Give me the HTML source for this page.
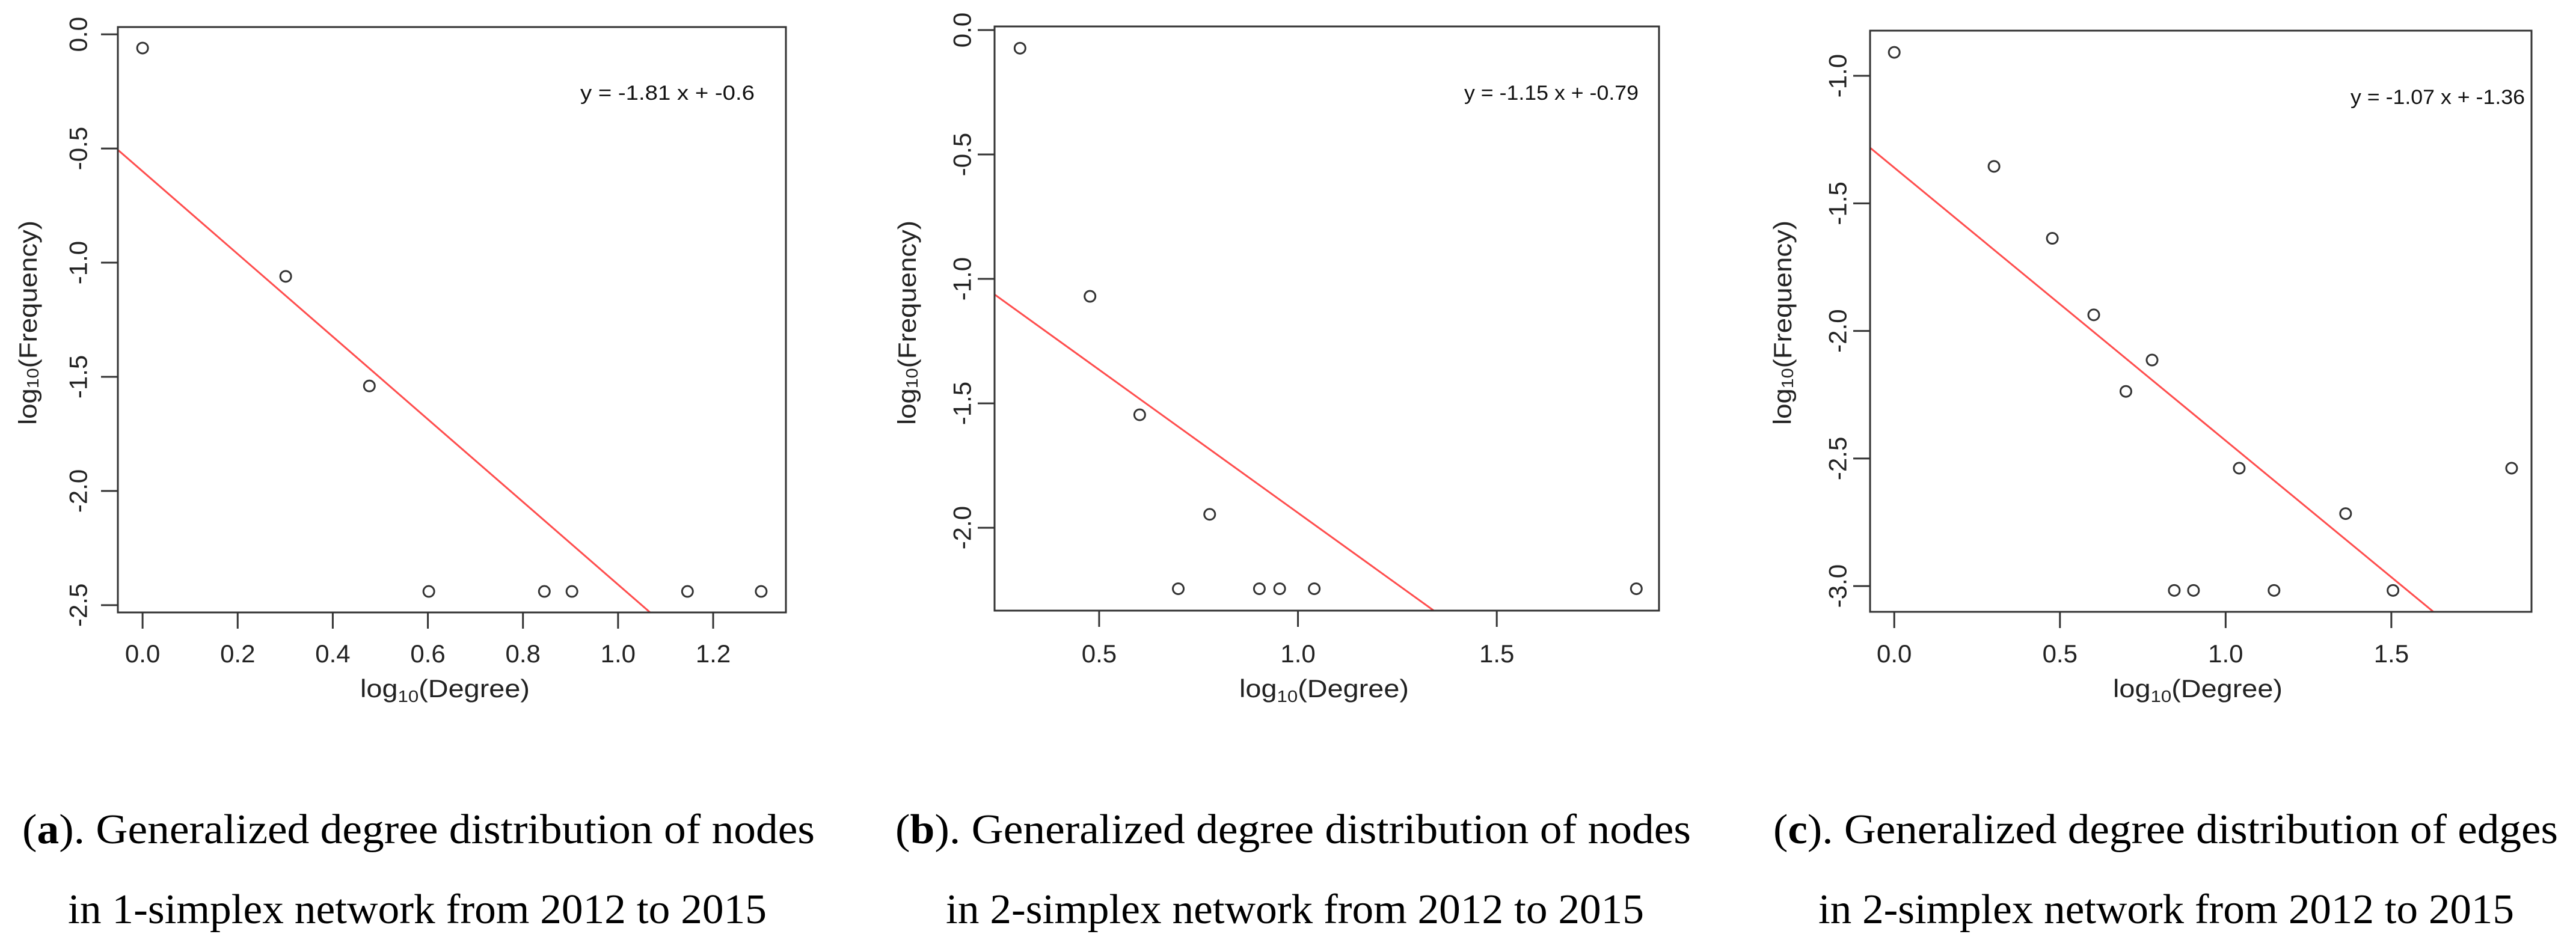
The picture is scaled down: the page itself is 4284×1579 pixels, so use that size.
<!DOCTYPE html>
<html><head><meta charset="utf-8"><style>
html,body{margin:0;padding:0;background:#fff;}
svg{display:block;}
.tick{font-family:"Liberation Sans",sans-serif;font-size:42px;fill:#222;}
.ttl{font-family:"Liberation Sans",sans-serif;font-size:42px;fill:#222;}
.eq{font-family:"Liberation Sans",sans-serif;font-size:34px;fill:#111;}
.cap{font-family:"Liberation Serif",serif;font-size:70px;fill:#000;}
</style></head><body>
<svg id="fig" width="4284" height="1579" viewBox="0 0 4284 1579" xmlns="http://www.w3.org/2000/svg">
<text class="cap" x="37" y="1403" textLength="1318" lengthAdjust="spacingAndGlyphs">(<tspan font-weight="bold">a</tspan>). Generalized degree distribution of nodes</text>
<text class="cap" x="113" y="1536" textLength="1162" lengthAdjust="spacingAndGlyphs">in 1-simplex network from 2012 to 2015</text>
<text class="cap" x="1489" y="1403" textLength="1323" lengthAdjust="spacingAndGlyphs">(<tspan font-weight="bold">b</tspan>). Generalized degree distribution of nodes</text>
<text class="cap" x="1573" y="1536" textLength="1161" lengthAdjust="spacingAndGlyphs">in 2-simplex network from 2012 to 2015</text>
<text class="cap" x="2949" y="1403" textLength="1305" lengthAdjust="spacingAndGlyphs">(<tspan font-weight="bold">c</tspan>). Generalized degree distribution of edges</text>
<text class="cap" x="3024" y="1536" textLength="1157" lengthAdjust="spacingAndGlyphs">in 2-simplex network from 2012 to 2015</text>
</svg>
<script>
// Panel (a) data
const xA = [0, 0.301, 0.477, 0.602, 0.845, 0.903, 1.146, 1.301];
const yA = [-0.06, -1.06, -1.54, -2.44, -2.44, -2.44, -2.44, -2.44];
const xTicksA = [0, 0.2, 0.4, 0.6, 0.8, 1.0, 1.2];
const xTickLabelsA = ["0.0","0.2","0.4","0.6","0.8","1.0","1.2"];
const yTicksA = [0, -0.5, -1.0, -1.5, -2.0, -2.5];
const yTickLabelsA = ["0.0","-0.5","-1.0","-1.5","-2.0","-2.5"];
const fitA = [-1.81, -0.6];
// Panel (b) data
const xB = [0.301, 0.477, 0.602, 0.699, 0.778, 0.903, 0.954, 1.041, 1.851];
const yB = [-0.073, -1.07, -1.546, -2.245, -1.946, -2.245, -2.245, -2.245, -2.245];
const xTicksB = [0.5, 1.0, 1.5];
const xTickLabelsB = ["0.5","1.0","1.5"];
const yTicksB = [0, -0.5, -1.0, -1.5, -2.0];
const yTickLabelsB = ["0.0","-0.5","-1.0","-1.5","-2.0"];
const fitB = [-1.15, -0.79];
// Panel (c) data
const xC = [0, 0.301, 0.477, 0.602, 0.699, 0.778, 0.845, 0.903, 1.041, 1.146, 1.362, 1.505, 1.863];
const yC = [-0.908, -1.355, -1.637, -1.937, -2.237, -2.114, -3.017, -3.017, -2.538, -3.017, -2.716, -3.017, -2.538];
const xTicksC = [0, 0.5, 1.0, 1.5];
const xTickLabelsC = ["0.0","0.5","1.0","1.5"];
const yTicksC = [-1.0, -1.5, -2.0, -2.5, -3.0];
const yTickLabelsC = ["-1.0","-1.5","-2.0","-2.5","-3.0"];
const fitC = [-1.07, -1.36];

const NS = "http://www.w3.org/2000/svg";
const svg = document.getElementById("fig");
function mk(tag, attrs, parent){
  const e = document.createElementNS(NS, tag);
  for (const k in attrs) e.setAttribute(k, attrs[k]);
  (parent||svg).appendChild(e);
  return e;
}
function panel(id, cfg, xs, ys, xt, xtl, yt, ytl, fit){
  const g = mk("g", {});
  
  
  const sx = v => cfg.L + (v - cfg.x0) / (cfg.x1 - cfg.x0) * (cfg.R - cfg.L);
  const sy = v => cfg.T + (cfg.y1 - v) / (cfg.y1 - cfg.y0) * (cfg.B - cfg.T);
  // fit line clipped to box
  const clip = mk("clipPath", {id: "clip" + id}, g);
  mk("rect", {x: cfg.L, y: cfg.T, width: cfg.R - cfg.L, height: cfg.B - cfg.T}, clip);
  const fl = mk("line", {x1: sx(cfg.x0), y1: sy(fit[0]*cfg.x0 + fit[1]), x2: sx(cfg.x1), y2: sy(fit[0]*cfg.x1 + fit[1]), stroke: "#ff4d4d", "stroke-width": 3, "clip-path": "url(#clip" + id + ")"}, g);
  
  
  // box
  const box = mk("rect", {x: cfg.L, y: cfg.T, width: cfg.R - cfg.L, height: cfg.B - cfg.T, fill: "none", stroke: "#333", "stroke-width": 3}, g);
  
  
  // x axis
  const xa = mk("line", {x1: sx(xt[0]), x2: sx(xt[xt.length-1]), y1: cfg.B, y2: cfg.B, stroke: "#333", "stroke-width": 3}, g);
  
  
  xt.forEach((v, i) => {
    mk("line", {x1: sx(v), x2: sx(v), y1: cfg.B, y2: cfg.B + 27, stroke: "#333", "stroke-width": 3}, g);
    const t = mk("text", {x: sx(v), y: 1102, "text-anchor": "middle", class: "tick"}, g);
    t.textContent = xtl[i];
    
    
  });
  const ya = mk("line", {x1: cfg.L, x2: cfg.L, y1: sy(yt[0]), y2: sy(yt[yt.length-1]), stroke: "#333", "stroke-width": 3}, g);
  
  
  yt.forEach((v, i) => {
    mk("line", {x1: cfg.L - 28, x2: cfg.L, y1: sy(v), y2: sy(v), stroke: "#333", "stroke-width": 3}, g);
    const t = mk("text", {x: 0, y: 0, "text-anchor": "middle", "dominant-baseline": "central", class: "tick", transform: "translate(" + cfg.ytx + "," + sy(v) + ") rotate(-90)"}, g);
    t.textContent = ytl[i];
    
    
  });
  // titles
  const xtTitle = mk("text", {x: cfg.xtc, y: 1160, "text-anchor": "middle", class: "ttl", textLength: 282, lengthAdjust: "spacingAndGlyphs"}, g);
  xtTitle.innerHTML = 'log<tspan font-size="28" dy="8">10</tspan><tspan dy="-8">(Degree)</tspan>';
  
  
  const ytTitle = mk("text", {x: 0, y: 0, "text-anchor": "middle", "dominant-baseline": "central", class: "ttl", textLength: 340, lengthAdjust: "spacingAndGlyphs", transform: "translate(" + cfg.ytt + ",537) rotate(-90)"}, g);
  ytTitle.innerHTML = 'log<tspan font-size="28" dy="8">10</tspan><tspan dy="-8">(Frequency)</tspan>';
  
  
  // equation
  const eq = mk("text", {x: cfg.eqx, y: cfg.eqy, class: "eq", textLength: 290, lengthAdjust: "spacingAndGlyphs"}, g);
  eq.textContent = "y = " + fit[0] + " x + " + fit[1];
  
  
  // points
  xs.forEach((v, i) => {
    const c = mk("circle", {cx: sx(v), cy: sy(ys[i]), r: 9, fill: "none", stroke: "#333", "stroke-width": 3}, g);
    
    
  });
}
panel("a", {L:196, R:1307, T:45, B:1019, x0:-0.052, x1:1.353, y0:-2.532, y1:0.032, ytx:130, ytt:46, xtc:740, eqx:965, eqy:166}, xA, yA, xTicksA, xTickLabelsA, yTicksA, yTickLabelsA, fitA);
panel("b", {L:1654, R:2759, T:44, B:1016, x0:0.237, x1:1.908, y0:-2.333, y1:0.0145, ytx:1600, ytt:1508, xtc:2202, eqx:2435, eqy:166}, xB, yB, xTicksB, xTickLabelsB, yTicksB, yTickLabelsB, fitB);
panel("c", {L:3110, R:4210, T:51, B:1018, x0:-0.073, x1:1.923, y0:-3.101, y1:-0.823, ytx:3056, ytt:2964, xtc:3655, eqx:3909, eqy:173}, xC, yC, xTicksC, xTickLabelsC, yTicksC, yTickLabelsC, fitC);
</script>
</body></html>
